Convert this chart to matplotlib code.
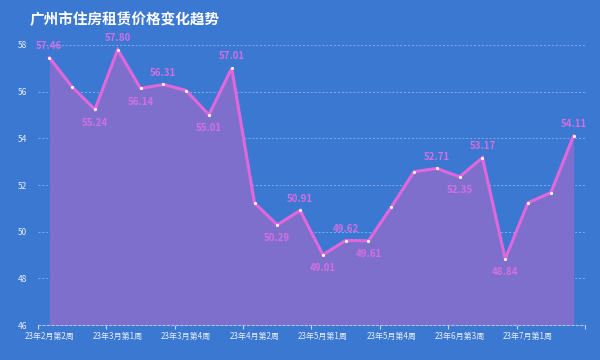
import matplotlib.pyplot as plt
import numpy as np

plt.rcParams['font.family'] = ['Noto Sans CJK SC', 'DejaVu Sans']

# 数据
weeks = ['23年2月第2周', '23年2月第3周', '23年2月第4周', '23年3月第1周', '23年3月第2周',
         '23年3月第3周', '23年3月第4周', '23年3月第5周', '23年4月第1周', '23年4月第2周',
         '23年4月第3周', '23年4月第4周', '23年5月第1周', '23年5月第2周', '23年5月第3周',
         '23年5月第4周', '23年6月第1周', '23年6月第2周', '23年6月第3周', '23年6月第4周',
         '23年6月第5周', '23年7月第1周', '23年7月第2周', '23年7月第3周']
prices = [57.46, 56.20, 55.24, 57.80, 56.14, 56.31, 56.05, 55.01, 57.01, 51.23,
          50.29, 50.91, 49.01, 49.62, 49.61, 51.05, 52.57, 52.71, 52.35, 53.17,
          48.84, 51.24, 51.67, 54.11]
# 标注位置: 1 = 上方, -1 = 下方, 0 = 不标注
label_pos = [1, 0, -1, 1, -1, 1, 0, -1, 1, 0,
             -1, 1, -1, 1, -1, 0, 0, 1, -1, 1,
             -1, 0, 0, 1]

bg = '#3b78d1'
line_color = '#e367dc'
fill_color = '#7e6fcd'
label_color = '#d36fe2'

fig = plt.figure(figsize=(6, 3.6), dpi=100, facecolor=bg)
ax = fig.add_axes([0.0633, 0.0972, 0.9117, 0.7778])
ax.set_facecolor(bg)

x = np.arange(len(prices))
ax.fill_between(x, prices, 46, color=fill_color, lw=0, zorder=2)
ax.plot(x, prices, color=line_color, lw=2.2, zorder=3, solid_joinstyle='miter')
ax.scatter(x, prices, s=5, color='white', zorder=4, lw=0)

for i, (v, p) in enumerate(zip(prices, label_pos)):
    if p == 0:
        continue
    off = 8.5 if p > 0 else -9.5
    ax.annotate(f'{v:.2f}', (i, v), xytext=(0, off), textcoords='offset points',
                ha='center', va='center', fontsize=7, color=label_color,
                fontweight='bold', zorder=5)

ax.set_xlim(-0.5, len(prices) - 0.5)
ax.set_ylim(46, 58)

ax.set_yticks(range(46, 59, 2))
ax.tick_params(axis='y', length=0, labelsize=6, labelcolor='#e8eefa', pad=8)
ax.grid(axis='y', color='#86aae6', ls=(0, (2, 2)), lw=0.7, zorder=1)

ax.set_xticks(x[::3])
ax.set_xticklabels(weeks[::3])
ax.set_xticks(np.arange(-0.5, len(prices), 3), minor=True)
ax.tick_params(axis='x', which='major', length=0, labelsize=5.8, labelcolor='#e8eefa', pad=5)
ax.tick_params(axis='x', which='minor', length=3, color='#c8d8f2', width=0.8)

for s in ['top', 'right', 'left']:
    ax.spines[s].set_visible(False)
ax.spines['bottom'].set_color('#a8c2ec')
ax.spines['bottom'].set_linestyle((0, (2, 2)))
ax.spines['bottom'].set_linewidth(0.8)

fig.text(0.05, 0.948, '广州市住房租赁价格变化趋势', color='white', fontsize=10.5,
         fontweight='bold', ha='left', va='center')

fig.savefig('out.png', dpi=100, facecolor=bg)
